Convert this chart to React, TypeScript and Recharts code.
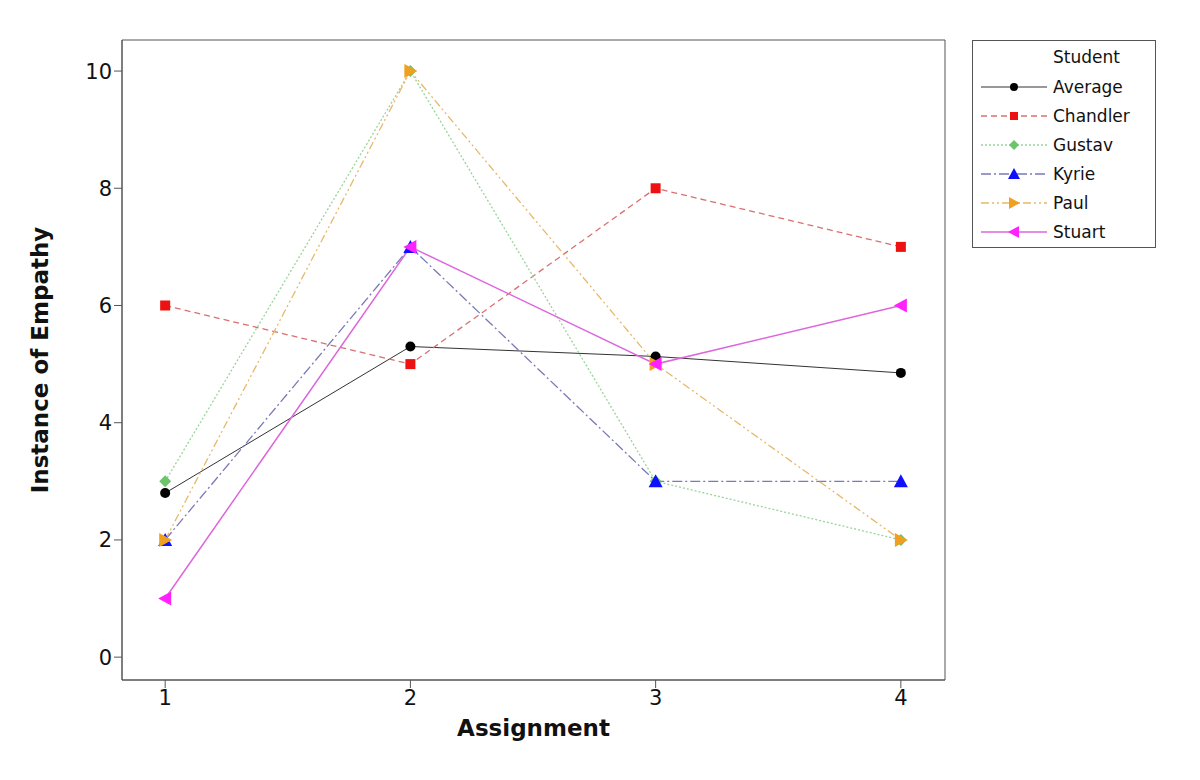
import React from "react";
import { LineChart, Line, XAxis, YAxis, Label, ReferenceArea } from "recharts";

const assignments = [1, 2, 3, 4];
const yTicks = [0, 2, 4, 6, 8, 10];
const average = [2.8, 5.3, 5.13, 4.85];
const chandler = [6, 5, 8, 7];
const gustav = [3, 10, 3, 2];
const kyrie = [2, 7, 3, 3];
const paul = [2, 10, 5, 2];
const stuart = [1, 7, 5, 6];

const xDomain = [0.824, 4.18];
const yDomain = [-0.39, 10.53];

const series = [
  { key: "Average", values: average, line: "#333333", marker: "#000000", dash: undefined, shape: "circle", width: 1 },
  { key: "Chandler", values: chandler, line: "#d97070", marker: "#ee1111", dash: "6 4", shape: "square", width: 1.3 },
  { key: "Gustav", values: gustav, line: "#9ad49a", marker: "#6cc46c", dash: "2 2", shape: "diamond", width: 1.3 },
  { key: "Kyrie", values: kyrie, line: "#7a7ab8", marker: "#1010ff", dash: "10 3 2 3", shape: "up", width: 1.3 },
  { key: "Paul", values: paul, line: "#e8b86a", marker: "#f0a020", dash: "8 3 2 3 2 3", shape: "right", width: 1.3 },
  { key: "Stuart", values: stuart, line: "#dd66dd", marker: "#ff22ff", dash: undefined, shape: "left", width: 1.5 },
];

const data = assignments.map((a, i) => {
  const row: any = { x: a };
  series.forEach((s) => (row[s.key] = s.values[i]));
  return row;
});

function Marker({ shape, cx, cy, fill, r = 6 }: any) {
  if (cx == null || cy == null) return null;
  switch (shape) {
    case "circle":
      return <circle cx={cx} cy={cy} r={r - 1} fill={fill} />;
    case "square":
      return <rect x={cx - r + 1} y={cy - r + 1} width={2 * r - 2} height={2 * r - 2} fill={fill} />;
    case "diamond":
      return <polygon points={`${cx},${cy - r} ${cx + r},${cy} ${cx},${cy + r} ${cx - r},${cy}`} fill={fill} />;
    case "up":
      return <polygon points={`${cx},${cy - r - 1} ${cx + r + 1},${cy + r} ${cx - r - 1},${cy + r}`} fill={fill} />;
    case "right":
      return <polygon points={`${cx + r + 1},${cy} ${cx - r},${cy - r - 1} ${cx - r},${cy + r + 1}`} fill={fill} />;
    case "left":
      return <polygon points={`${cx - r - 1},${cy} ${cx + r},${cy - r - 1} ${cx + r},${cy + r + 1}`} fill={fill} />;
  }
  return null;
}

const font = "DejaVu Sans, Verdana, sans-serif";

export default function App() {
  return (
    <div style={{ position: "absolute", left: 0, top: 0, width: 1200, height: 780, background: "#fff", fontFamily: font }}>
      <LineChart width={1200} height={780} data={data} margin={{ top: 40, right: 255, left: 42, bottom: 30 }}>
        <XAxis
          dataKey="x"
          type="number"
          domain={xDomain}
          ticks={assignments}
          allowDataOverflow
          stroke="#555"
          tickSize={8}
          height={70}
          tick={{ fill: "#111", fontSize: 21, fontFamily: font }}
        >
          <Label value="Assignment" position="insideBottom" offset={14} style={{ fontSize: 23, fontWeight: "bold", fill: "#111", fontFamily: font }} />
        </XAxis>
        <YAxis
          type="number"
          domain={yDomain}
          ticks={yTicks}
          allowDataOverflow
          stroke="#555"
          tickSize={8}
          width={80}
          tick={{ fill: "#111", fontSize: 21, fontFamily: font }}
        >
          <Label value="Instance of Empathy" angle={-90} position="insideLeft" offset={-2} style={{ fontSize: 23, fontWeight: "bold", fill: "#111", fontFamily: font, textAnchor: "middle" }} />
        </YAxis>
        <ReferenceArea x1={xDomain[0]} x2={xDomain[1]} y1={yDomain[0]} y2={yDomain[1]} fill="none" fillOpacity={0} stroke="#555" strokeWidth={1} ifOverflow="visible" />
        {series.map((s) => (
          <Line
            key={s.key}
            dataKey={s.key}
            stroke={s.line}
            strokeWidth={s.width}
            strokeDasharray={s.dash}
            isAnimationActive={false}
            dot={(p: any) => <Marker key={`${s.key}-${p.index}`} shape={s.shape} cx={p.cx} cy={p.cy} fill={s.marker} />}
            activeDot={false}
          />
        ))}
      </LineChart>
      <div style={{ position: "absolute", left: 972, top: 40, width: 184, height: 208, border: "1px solid #555", boxSizing: "border-box", background: "#fff" }}>
        <div style={{ position: "absolute", left: 80, top: 6, fontSize: 17, color: "#111" }}>Student</div>
        {series.map((s) => (
          <div key={s.key} style={{ position: "absolute", left: 6, top: 34 + series.indexOf(s) * 29, height: 24, display: "flex", alignItems: "center" }}>
            <svg width={70} height={24}>
              <line x1={2} y1={12} x2={68} y2={12} stroke={s.line} strokeWidth={s.width} strokeDasharray={s.dash} />
              <Marker shape={s.shape} cx={35} cy={12} fill={s.marker} r={5} />
            </svg>
            <span style={{ fontSize: 17, color: "#111", marginLeft: 4 }}>{s.key}</span>
          </div>
        ))}
      </div>
    </div>
  );
}
